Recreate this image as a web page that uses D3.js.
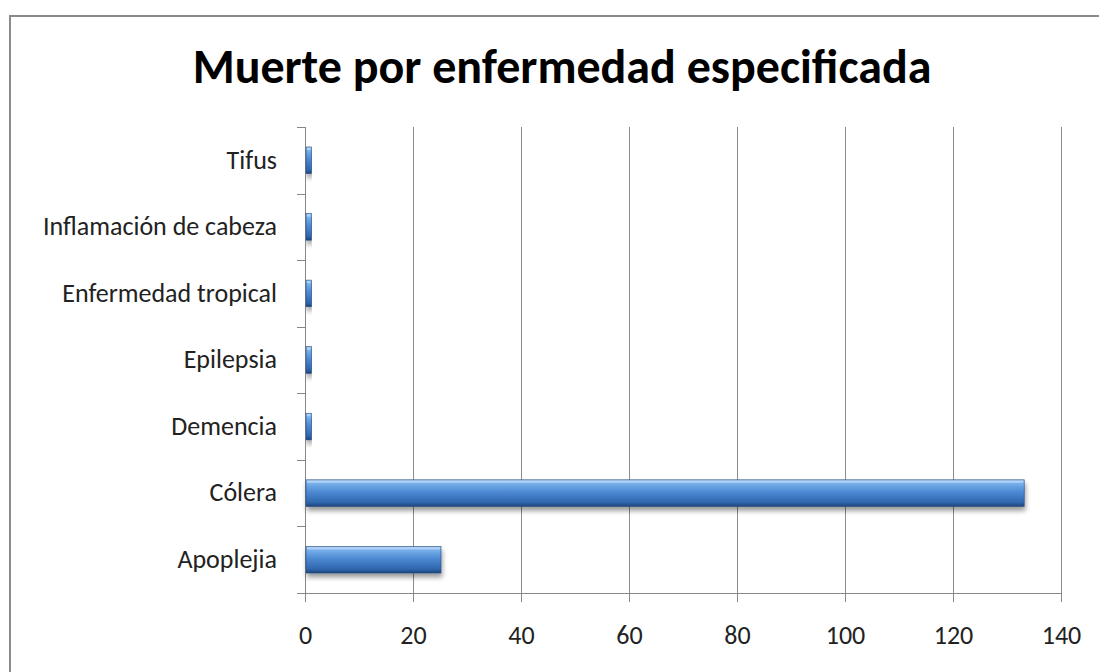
<!DOCTYPE html>
<html>
<head>
<meta charset="utf-8">
<script src="https://cdn.jsdelivr.net/npm/d3@7"></script>
<style>
  body { margin: 0; background: #fff; }
  svg { display: block; }
</style>
</head>
<body>
<svg id="chart" width="1099" height="672"></svg>
<script>
'use strict';

// data (top to bottom as drawn)
const categories = ['Tifus', 'Inflamación de cabeza', 'Enfermedad tropical', 'Epilepsia', 'Demencia', 'Cólera', 'Apoplejia'];
const values     = [1, 1, 1, 1, 1, 133, 25];
const xTicks     = [0, 20, 40, 60, 80, 100, 120, 140];
const title      = 'Muerte por enfermedad especificada';

const FONT = 'Carlito, "Open Sans", Lato, sans-serif';
const AXIS_GREY = '#878787';
const LABEL_SIZE = 26;

const svg = d3.select('#chart');

// chart frame (right and bottom edges run off the picture)
svg.append('rect')
  .attr('x', 10).attr('y', 16)
  .attr('width', 1100).attr('height', 670)
  .attr('fill', '#fff')
  .attr('stroke', '#8a8a8a').attr('stroke-width', 2);

svg.append('text')
  .attr('x', 562).attr('y', 83)
  .attr('text-anchor', 'middle')
  .attr('font-family', FONT)
  .attr('font-weight', 'bold')
  .attr('font-size', 48)
  .attr('fill', '#000')
  .text(title);

const plot = { left: 305, right: 1061, top: 127, bottom: 593 };

const x = d3.scaleLinear().domain([0, 140]).range([plot.left, plot.right]);
const y = d3.scaleBand().domain(categories).range([plot.top, plot.bottom]).paddingInner(0.6).paddingOuter(0.3);
const band = d3.scaleBand().domain(categories).range([plot.top, plot.bottom]);

// gradient + shadow for the Excel-style bars
const defs = svg.append('defs');
const grad = defs.append('linearGradient').attr('id', 'barGrad')
  .attr('x1', 0).attr('y1', 0).attr('x2', 0).attr('y2', 1);
[['0%', '#a9cdf5'], ['10%', '#7db4ee'], ['45%', '#4d8ad3'], ['85%', '#2f66ad'], ['100%', '#1e4478']]
  .forEach(([o, c]) => grad.append('stop').attr('offset', o).attr('stop-color', c));

const shadow = defs.append('filter').attr('id', 'barShadow')
  .attr('x', '-10%').attr('y', '-30%').attr('width', '120%').attr('height', '200%');
shadow.append('feGaussianBlur').attr('in', 'SourceAlpha').attr('stdDeviation', 2.5).attr('result', 'b');
shadow.append('feOffset').attr('in', 'b').attr('dx', 1).attr('dy', 4).attr('result', 'o');
shadow.append('feComponentTransfer').attr('in', 'o').attr('result', 's')
  .append('feFuncA').attr('type', 'linear').attr('slope', 0.4);
const fm = shadow.append('feMerge');
fm.append('feMergeNode').attr('in', 's');
fm.append('feMergeNode').attr('in', 'SourceGraphic');

// vertical gridlines
svg.append('g')
  .selectAll('line')
  .data(xTicks.slice(1))
  .join('line')
  .attr('x1', d => x(d) + 0.5).attr('x2', d => x(d) + 0.5)
  .attr('y1', plot.top).attr('y2', plot.bottom)
  .attr('stroke', '#8c8c8c').attr('stroke-width', 1);

// x axis
const xAxis = svg.append('g')
  .attr('transform', `translate(0,${plot.bottom})`)
  .call(d3.axisBottom(x).tickValues(xTicks).tickSize(9).tickPadding(24));
xAxis.select('.domain').attr('stroke', AXIS_GREY).attr('d', `M${plot.left - 8},0.5H${plot.right}`);
xAxis.selectAll('.tick line').attr('stroke', AXIS_GREY);
xAxis.selectAll('.tick text')
  .attr('font-family', FONT).attr('font-size', LABEL_SIZE).attr('fill', '#222');

// y axis: ticks sit on band boundaries
const yAxis = svg.append('g').attr('transform', `translate(${plot.left},0)`);
yAxis.append('line')
  .attr('x1', 0.5).attr('x2', 0.5)
  .attr('y1', plot.top).attr('y2', plot.bottom)
  .attr('stroke', AXIS_GREY);
const bounds = categories.map(c => band(c)).concat([plot.bottom]);
yAxis.selectAll('line.tk')
  .data(bounds)
  .join('line').attr('class', 'tk')
  .attr('x1', -8).attr('x2', 0)
  .attr('y1', d => Math.round(d) + 0.5).attr('y2', d => Math.round(d) + 0.5)
  .attr('stroke', AXIS_GREY);
yAxis.selectAll('text')
  .data(categories)
  .join('text')
  .attr('x', -28)
  .attr('y', d => band(d) + band.bandwidth() / 2)
  .attr('dy', '0.32em')
  .attr('text-anchor', 'end')
  .attr('font-family', FONT).attr('font-size', LABEL_SIZE).attr('fill', '#222')
  .text(d => d);

// bars
const rows = categories.map((c, i) => ({ c, v: values[i] }));
const bars = svg.append('g').selectAll('g').data(rows).join('g');
bars.append('rect')
  .attr('x', x(0) + 1)
  .attr('y', d => y(d.c))
  .attr('width', d => x(d.v) - x(0))
  .attr('height', y.bandwidth())
  .attr('fill', 'url(#barGrad)')
  .attr('stroke', '#1f4a80').attr('stroke-width', 0.6)
  .attr('filter', 'url(#barShadow)');
// thin highlight along the top edge
bars.append('rect')
  .attr('x', x(0) + 2)
  .attr('y', d => y(d.c) + 1)
  .attr('width', d => Math.max(0, x(d.v) - x(0) - 2))
  .attr('height', 2)
  .attr('fill', '#c4dcf7').attr('opacity', 0.7);
</script>
</body>
</html>
